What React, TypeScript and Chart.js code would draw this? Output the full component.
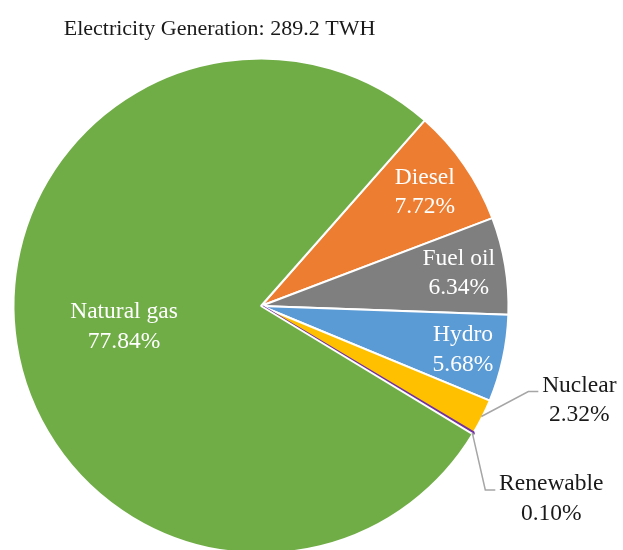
import React, { useEffect, useRef } from "react";
import { Chart, registerables } from "chart.js";

Chart.register(...registerables);

const TITLE = "Electricity Generation: 289.2 TWH";
const categories = ["Diesel", "Fuel oil", "Hydro", "Nuclear", "Renewable", "Natural gas"];
const shares = [7.72, 6.34, 5.68, 2.32, 0.1, 77.84];
const percentLabels = ["7.72%", "6.34%", "5.68%", "2.32%", "0.10%", "77.84%"];
const sliceColors = ["#ED7D31", "#7F7F7F", "#5B9BD5", "#FFC000", "#7030A0", "#70AD47"];
const sliceBorderColors = ["#FFFFFF", "#FFFFFF", "#FFFFFF", "#FFFFFF", "#7030A0", "#FFFFFF"];
const sliceBorderWidths = [2, 2, 2, 2, 3, 2];

// label layout: inside -> radial fraction; outside -> leader elbow offset from arc edge
type LabelLayout =
  | { kind: "inside"; frac: number }
  | { kind: "outside"; elbowDx: number; elbowDy: number; tail: number; textDx: number };
const labelLayout: LabelLayout[] = [
  { kind: "inside", frac: 0.805 },
  { kind: "inside", frac: 0.81 },
  { kind: "inside", frac: 0.835 },
  { kind: "outside", elbowDx: 47, elbowDy: -25, tail: 10, textDx: 51 },
  { kind: "outside", elbowDx: 13, elbowDy: 57, tail: 10, textDx: 66 },
  { kind: "inside", frac: 0.56 },
];

const FONT_FAMILY = '"Liberation Serif", "Times New Roman", serif';

const labelPlugin = {
  id: "sliceLabels",
  afterDatasetsDraw(chart: any) {
    const ctx: CanvasRenderingContext2D = chart.ctx;
    const meta = chart.getDatasetMeta(0);
    ctx.save();
    // title
    ctx.font = `22px ${FONT_FAMILY}`;
    ctx.fillStyle = "#1a1a1a";
    ctx.textAlign = "center";
    ctx.textBaseline = "alphabetic";
    ctx.fillText(TITLE, 219.5, 35);

    const lineGap = 29.5;
    meta.data.forEach((arc: any, i: number) => {
      const p = arc.getProps(["x", "y", "startAngle", "endAngle", "outerRadius"], true);
      const mid = (p.startAngle + p.endAngle) / 2;
      const layout = labelLayout[i];
      ctx.font = `23.5px ${FONT_FAMILY}`;
      ctx.textAlign = "center";
      ctx.textBaseline = "middle";
      if (layout.kind === "inside") {
        const r = p.outerRadius * layout.frac;
        const cx = p.x + Math.cos(mid) * r;
        const cy = p.y + Math.sin(mid) * r;
        ctx.fillStyle = "#FFFFFF";
        ctx.fillText(categories[i], cx, cy - lineGap / 2);
        ctx.fillText(percentLabels[i], cx, cy + lineGap / 2);
      } else {
        const ex = p.x + Math.cos(mid) * (p.outerRadius - 1);
        const ey = p.y + Math.sin(mid) * (p.outerRadius - 1);
        const bx = ex + layout.elbowDx;
        const by = ey + layout.elbowDy;
        ctx.strokeStyle = "#A6A6A6";
        ctx.lineWidth = 1.5;
        ctx.beginPath();
        ctx.moveTo(ex, ey);
        ctx.lineTo(bx, by);
        ctx.lineTo(bx + layout.tail, by);
        ctx.stroke();
        const tx = bx + layout.textDx;
        ctx.fillStyle = "#1a1a1a";
        ctx.fillText(categories[i], tx, by - 6);
        ctx.fillText(percentLabels[i], tx, by - 6 + lineGap);
      }
    });
    ctx.restore();
  },
};

export default function App() {
  const canvasRef = useRef<HTMLCanvasElement | null>(null);

  useEffect(() => {
    const canvas = canvasRef.current;
    if (!canvas) return;
    const chart = new Chart(canvas, {
      type: "pie",
      data: {
        labels: categories,
        datasets: [
          {
            data: shares,
            backgroundColor: sliceColors,
            borderColor: sliceBorderColors,
            borderWidth: sliceBorderWidths,
            hoverOffset: 0,
          },
        ],
      },
      options: {
        responsive: false,
        animation: false,
        events: [],
        rotation: 41.4,
        layout: { padding: { left: 12, top: 57, right: 113, bottom: 45 } },
        plugins: {
          legend: { display: false },
          title: { display: false },
          tooltip: { enabled: false },
        },
      },
      plugins: [labelPlugin],
    });
    return () => chart.destroy();
  }, []);

  return (
    <div
      style={{
        position: "fixed",
        left: 0,
        top: 0,
        width: 623,
        height: 550,
        overflow: "hidden",
        background: "#FFFFFF",
      }}
    >
      <canvas ref={canvasRef} width={623} height={600} style={{ width: 623, height: 600, display: "block" }} />
    </div>
  );
}
